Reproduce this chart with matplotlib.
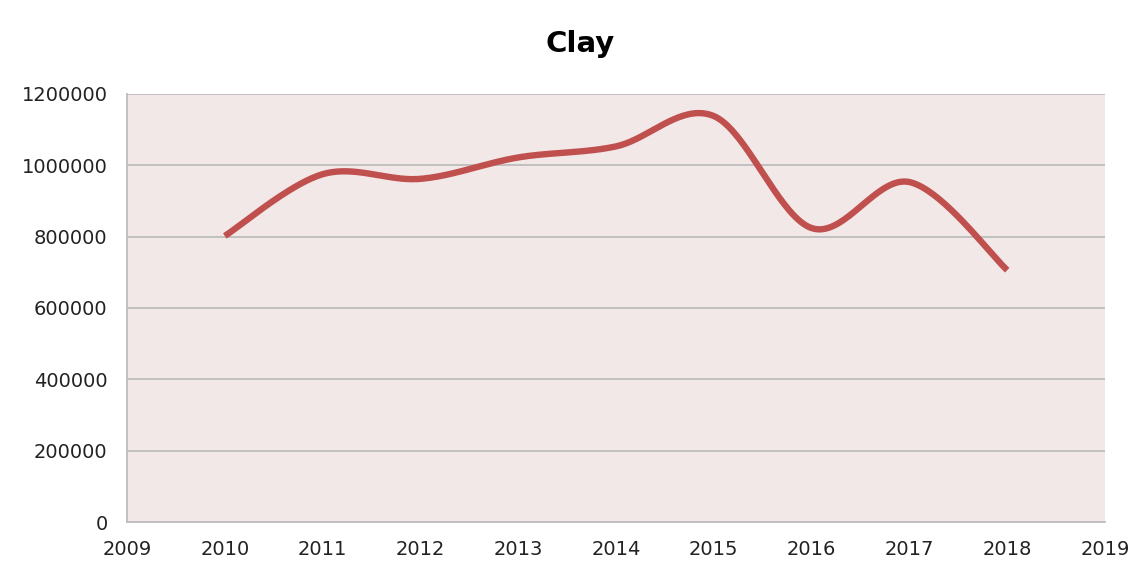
import numpy as np
import matplotlib
matplotlib.use("Agg")
import matplotlib.pyplot as plt

# Clay production by year
years = np.array([2010, 2011, 2012, 2013, 2014, 2015, 2016, 2017, 2018])
clay = np.array([802000, 975000, 962000, 1022000, 1053000, 1138000, 824000, 953000, 706000])

x_ticks = list(range(2009, 2020))
y_ticks = list(range(0, 1200001, 200000))


def smooth_line(x, y, n=40):
    # Excel-style smoothed line: Catmull-Rom through the points
    xs, ys = [], []
    px = np.concatenate([[x[0]], x, [x[-1]]])
    py = np.concatenate([[y[0]], y, [y[-1]]])
    t = np.linspace(0, 1, n)
    for i in range(1, len(px) - 2):
        p0, p1, p2, p3 = [np.array([px[j], py[j]], float) for j in range(i - 1, i + 3)]
        c1 = p1 + (p2 - p0) / 6
        c2 = p2 - (p3 - p1) / 6
        b = ((1 - t) ** 3)[:, None] * p1 + (3 * (1 - t) ** 2 * t)[:, None] * c1 \
            + (3 * (1 - t) * t ** 2)[:, None] * c2 + (t ** 3)[:, None] * p2
        xs.extend(b[:, 0])
        ys.extend(b[:, 1])
    return np.array(xs), np.array(ys)


fig = plt.figure(figsize=(11.41, 5.8), dpi=100)
ax = fig.add_axes([0.1113, 0.1, 0.8572, 0.738])
ax.set_facecolor('#f3e8e8')

sx, sy = smooth_line(years, clay)
ax.plot(sx, sy, color='#c0504d', linewidth=4.6, solid_capstyle='butt', zorder=3)

ax.set_xlim(2009, 2019)
ax.set_ylim(0, 1200000)
ax.set_xticks(x_ticks)
ax.set_yticks(y_ticks)
ax.set_yticklabels([str(v) for v in y_ticks])
ax.tick_params(length=0, labelsize=14, colors='#222222')
ax.tick_params(axis='y', pad=14)
ax.tick_params(axis='x', pad=13)
ax.grid(axis='y', color='#bdbdbd', linewidth=1.3)
ax.set_axisbelow(True)
for s in ['top', 'right']:
    ax.spines[s].set_visible(False)
for s in ['left', 'bottom']:
    ax.spines[s].set_color('#bdbdbd')
    ax.spines[s].set_linewidth(1.3)

fig.text(0.508, 0.925, 'Clay', ha='center', va='center', fontsize=21, fontweight='bold')

fig.savefig('out.png', dpi=100)
